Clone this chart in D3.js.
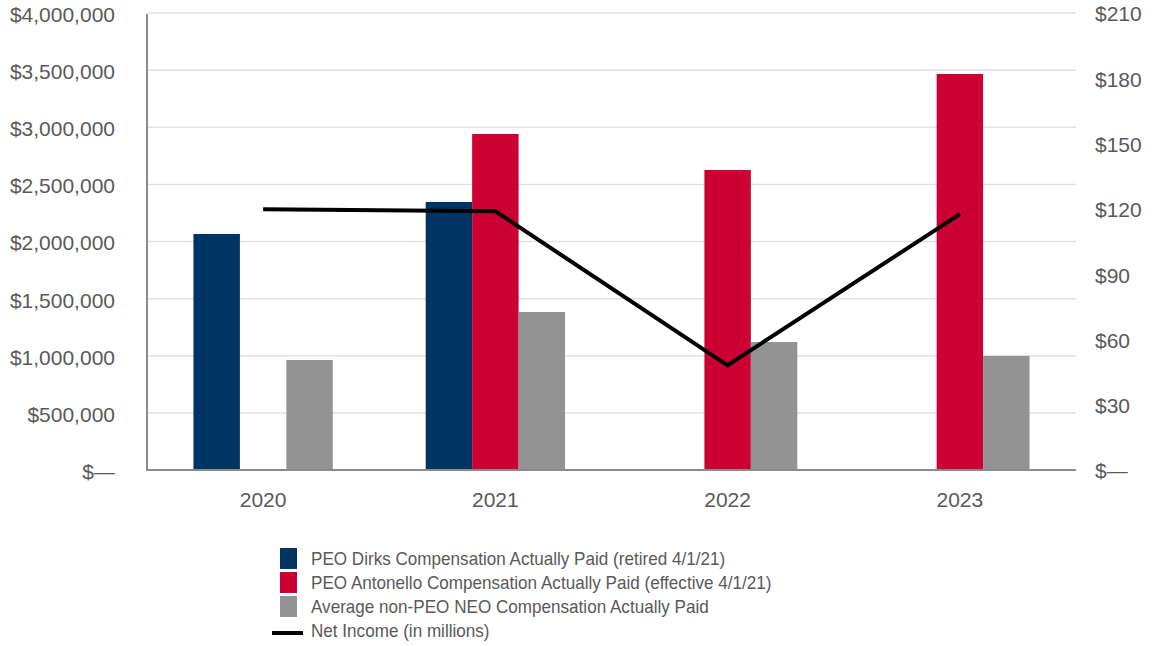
<!DOCTYPE html>
<html>
<head>
<meta charset="utf-8">
<script src="https://cdn.jsdelivr.net/npm/d3@7"></script>
<style>
  body { margin: 0; background: #fff; }
  svg text { font-family: "Liberation Sans", Arial, sans-serif; fill: #595959; }
</style>
</head>
<body>
<svg id="svg" width="1158" height="646"></svg>
<script>
// data
var years = ['2020', '2021', '2022', '2023'];
var dirksPaid = [2066000, 2346000, null, null];
var antonelloPaid = [null, 2941000, 2626000, 3466000];
var neoPaid = [963000, 1383000, 1120000, 998000];
var netIncome = [119.8, 118.9, 48.1, 117.6];

var leftTicks = [0, 500000, 1000000, 1500000, 2000000, 2500000, 3000000, 3500000, 4000000];
var rightTicks = [0, 30, 60, 90, 120, 150, 180, 210];

var seriesNames = [
  'PEO Dirks Compensation Actually Paid (retired 4/1/21)',
  'PEO Antonello Compensation Actually Paid (effective 4/1/21)',
  'Average non-PEO NEO Compensation Actually Paid'
];
var lineName = 'Net Income (in millions)';
var colors = ['#003462', '#cc0033', '#939393'];

var CHART = (function() {
  let chart = {};
  let svg = d3.select('svg');

  let m = { left: 147, right: 1076, top: 13, bottom: 470 };

  let x = d3.scaleBand().domain(years).range([m.left, m.right]).paddingInner(0).paddingOuter(0);
  let sub = d3.scaleBand().domain([0, 1, 2]).range([0, x.bandwidth()]).paddingOuter(1).paddingInner(0);
  let y = d3.scaleLinear().domain([0, 4000000]).range([m.bottom, m.top]);
  let y2 = d3.scaleLinear().domain([0, 210]).range([m.bottom, m.top]);

  let fmtLeft = function(d) { return d === 0 ? '$\u2014' : d3.format('$,')(d); };
  let fmtRight = function(d) { return d === 0 ? '$\u2014' : '$' + d; };

  chart.init = function() {
    // grid
    svg.append('g').selectAll('line').data(leftTicks.slice(1)).enter().append('line')
      .attr('x1', m.left + 1).attr('x2', m.right)
      .attr('y1', function(d) { return y(d); }).attr('y2', function(d) { return y(d); })
      .attr('stroke', '#e0e0e0').attr('stroke-width', 1.5);

    // left axis labels
    let gl = svg.append('g').attr('transform', 'translate(' + m.left + ',0)')
      .call(d3.axisLeft(y).tickValues(leftTicks).tickSize(0).tickPadding(32).tickFormat(fmtLeft));
    gl.select('.domain').remove();
    gl.selectAll('text').attr('font-size', 21).attr('dy', '0.4em').style('fill', '#595959');

    // right axis labels
    let gr = svg.append('g').attr('transform', 'translate(' + m.right + ',0)')
      .call(d3.axisRight(y2).tickValues(rightTicks).tickSize(0).tickPadding(19).tickFormat(fmtRight));
    gr.select('.domain').remove();
    gr.selectAll('text').attr('font-size', 21).attr('dy', '0.38em').style('fill', '#595959');

    // bars
    let groups = [dirksPaid, antonelloPaid, neoPaid];
    groups.forEach(function(vals, si) {
      svg.append('g').selectAll('rect')
        .data(vals.map(function(v, i) { return { year: years[i], v: v }; }).filter(function(d) { return d.v != null; }))
        .enter().append('rect')
        .attr('x', function(d) { return x(d.year) + sub(si); })
        .attr('width', sub.bandwidth())
        .attr('y', function(d) { return y(d.v); })
        .attr('height', function(d) { return y(0) - y(d.v); })
        .attr('fill', colors[si]);
    });

    // axes lines
    svg.append('line').attr('x1', m.left).attr('x2', m.left).attr('y1', m.top + 1).attr('y2', m.bottom)
      .attr('stroke', '#8c8c8c').attr('stroke-width', 2);
    svg.append('line').attr('x1', m.left - 1).attr('x2', m.right).attr('y1', m.bottom).attr('y2', m.bottom)
      .attr('stroke', '#8c8c8c').attr('stroke-width', 2);

    // x labels
    let gx = svg.append('g').attr('transform', 'translate(0,' + m.bottom + ')')
      .call(d3.axisBottom(x).tickSize(0).tickPadding(22));
    gx.select('.domain').remove();
    gx.selectAll('text').attr('font-size', 21).style('fill', '#595959');

    // net income line
    let line = d3.line()
      .x(function(d, i) { return x(years[i]) + x.bandwidth() / 2; })
      .y(function(d) { return y2(d); });
    svg.append('path').datum(netIncome).attr('d', line)
      .attr('fill', 'none').attr('stroke', '#000').attr('stroke-width', 4);

    // legend
    let lg = svg.append('g');
    let rowY = function(i) { return 558 + i * 24; };
    seriesNames.forEach(function(name, i) {
      lg.append('rect').attr('x', 280).attr('y', rowY(i) - 10).attr('width', 17).attr('height', 21).attr('fill', colors[i]);
      lg.append('text').attr('transform', 'translate(311,' + (rowY(i) + 6.5) + ') scale(0.95,1)')
        .attr('font-size', 18).text(name);
    });
    lg.append('line').attr('x1', 272).attr('x2', 303).attr('y1', rowY(3) + 3).attr('y2', rowY(3) + 3)
      .attr('stroke', '#000').attr('stroke-width', 4);
    lg.append('text').attr('transform', 'translate(311,' + (rowY(3) + 6.5) + ') scale(0.95,1)')
      .attr('font-size', 18).text(lineName);
  };

  return chart;
})();

CHART.init();
</script>
</body>
</html>
